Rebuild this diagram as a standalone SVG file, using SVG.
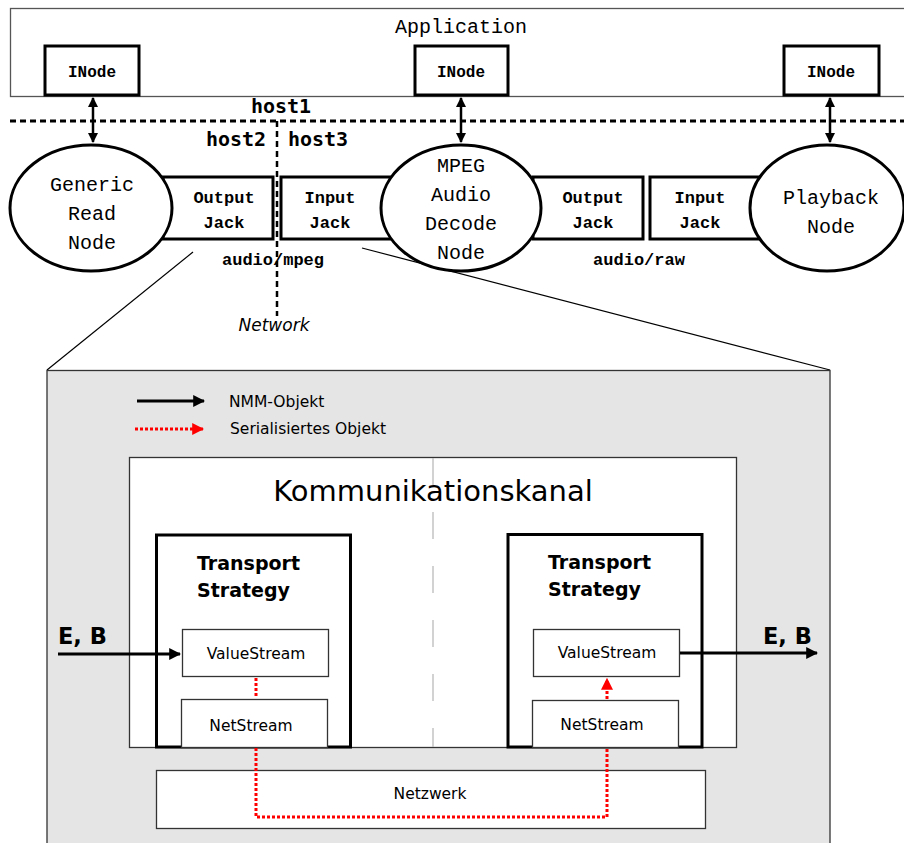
<svg xmlns="http://www.w3.org/2000/svg" width="904" height="843" viewBox="0 0 904 843">
<style>
.mono{font-family:"Liberation Mono","Courier New",monospace;fill:#000}
.dmono{font-family:"DejaVu Sans Mono",monospace;font-weight:bold;font-size:20px;fill:#000}
.sans{font-family:"DejaVu Sans",sans-serif;fill:#000}
.box{fill:#fff;stroke:#000;stroke-width:3}
.thin{fill:#fff;stroke:#333;stroke-width:1.3}
.ell{fill:#fff;stroke:#000;stroke-width:3}
.red{fill:none;stroke:#f00;stroke-width:3;stroke-dasharray:3,2}
.jk{font-size:17px;font-weight:bold}
</style>
<defs>
<marker id="ah" viewBox="0 0 10 10" refX="9" refY="5" markerWidth="4" markerHeight="4" orient="auto-start-reverse"><path d="M0,0L10,5L0,10z" fill="#000"/></marker>
<marker id="ahb" viewBox="0 0 10 10" refX="9" refY="5" markerWidth="4" markerHeight="4" orient="auto"><path d="M0,0L10,5L0,10z" fill="#000"/></marker>
<marker id="ahr" viewBox="0 0 10 10" refX="9" refY="5" markerWidth="4" markerHeight="4" orient="auto"><path d="M0,0L10,5L0,10z" fill="#f00"/></marker>
</defs>
<rect width="904" height="843" fill="#fff"/>
<g id="application">
<rect x="10.5" y="8.5" width="900" height="88" fill="#fff" stroke="#555" stroke-width="1.3"/>
<text class="mono" x="461" y="33" font-size="20" text-anchor="middle">Application</text>
</g>
<g id="inode1"><rect class="box" x="45" y="46" width="94" height="49"/><text class="mono" x="92" y="77" font-size="16" font-weight="bold" text-anchor="middle">INode</text></g>
<g id="inode2"><rect class="box" x="415" y="46" width="93" height="49"/><text class="mono" x="461" y="77" font-size="16" font-weight="bold" text-anchor="middle">INode</text></g>
<g id="inode3"><rect class="box" x="784" y="46" width="95" height="49"/><text class="mono" x="831" y="77" font-size="16" font-weight="bold" text-anchor="middle">INode</text></g>
<g id="hosts">
<line x1="10" y1="121" x2="904" y2="121" stroke="#000" stroke-width="3" stroke-dasharray="6,4"/>
<line x1="277" y1="121" x2="277" y2="316" stroke="#000" stroke-width="2.5" stroke-dasharray="6,4"/>
<text class="dmono" x="281" y="113" text-anchor="middle">host1</text>
<text class="dmono" x="236" y="146" text-anchor="middle">host2</text>
<text class="dmono" x="318" y="146" text-anchor="middle">host3</text>
<text class="sans" x="274" y="331" font-size="17" font-style="italic" text-anchor="middle">Network</text>
</g>
<g id="connectors">
<line x1="93" y1="98" x2="93" y2="142" stroke="#000" stroke-width="2.5" marker-start="url(#ah)" marker-end="url(#ah)"/>
<line x1="461" y1="98" x2="461" y2="142" stroke="#000" stroke-width="2.5" marker-start="url(#ah)" marker-end="url(#ah)"/>
<line x1="830" y1="98" x2="830" y2="142" stroke="#000" stroke-width="2.5" marker-start="url(#ah)" marker-end="url(#ah)"/>
<line x1="193" y1="252" x2="47" y2="370" stroke="#000" stroke-width="1.2"/>
<line x1="362" y1="248" x2="830" y2="370" stroke="#000" stroke-width="1.2"/>
</g>
<g id="outjack1"><rect class="box" x="163" y="177" width="110" height="62"/><text class="mono jk" x="224" y="203" text-anchor="middle">Output</text><text class="mono jk" x="224" y="228" text-anchor="middle">Jack</text></g>
<g id="injack1"><rect class="box" x="281" y="177" width="110" height="62"/><text class="mono jk" x="330" y="203" text-anchor="middle">Input</text><text class="mono jk" x="330" y="228" text-anchor="middle">Jack</text></g>
<g id="outjack2"><rect class="box" x="533" y="177" width="110" height="62"/><text class="mono jk" x="593" y="203" text-anchor="middle">Output</text><text class="mono jk" x="593" y="228" text-anchor="middle">Jack</text></g>
<g id="injack2"><rect class="box" x="650" y="177" width="110" height="62"/><text class="mono jk" x="700" y="203" text-anchor="middle">Input</text><text class="mono jk" x="700" y="228" text-anchor="middle">Jack</text></g>
<g id="genericread"><ellipse class="ell" cx="91" cy="208" rx="81" ry="63"/><text class="mono" x="92" y="191" font-size="20" text-anchor="middle">Generic</text><text class="mono" x="92" y="220" font-size="20" text-anchor="middle">Read</text><text class="mono" x="92" y="249" font-size="20" text-anchor="middle">Node</text></g>
<g id="mpegdecode"><ellipse class="ell" cx="461" cy="208" rx="80" ry="63"/><text class="mono" x="461" y="172" font-size="20" text-anchor="middle">MPEG</text><text class="mono" x="461" y="201" font-size="20" text-anchor="middle">Audio</text><text class="mono" x="461" y="230" font-size="20" text-anchor="middle">Decode</text><text class="mono" x="461" y="259" font-size="20" text-anchor="middle">Node</text></g>
<g id="playback"><ellipse class="ell" cx="827" cy="208" rx="77" ry="63"/><text class="mono" x="831" y="204" font-size="20" text-anchor="middle">Playback</text><text class="mono" x="831" y="233" font-size="20" text-anchor="middle">Node</text></g>
<g id="formats">
<text class="mono jk" x="273" y="265" text-anchor="middle">audio/mpeg</text>
<text class="mono jk" x="639" y="265" text-anchor="middle">audio/raw</text>
</g>
<g id="detail">
<rect x="47" y="370.5" width="783" height="480" fill="#e5e5e5" stroke="#333" stroke-width="1.3"/>
<line x1="137" y1="401" x2="204" y2="401" stroke="#000" stroke-width="3" marker-end="url(#ahb)"/>
<text class="sans" x="229" y="407" font-size="15.5">NMM-Objekt</text>
<line x1="135" y1="429" x2="203" y2="429" class="red" marker-end="url(#ahr)"/>
<text class="sans" x="230" y="434" font-size="15.5">Serialisiertes Objekt</text>
</g>
<g id="kanal">
<rect class="thin" x="129.5" y="457.5" width="607" height="290"/>
<line x1="433" y1="458" x2="433" y2="747" stroke="#bbb" stroke-width="1.3" stroke-dasharray="27,27"/>
<text class="sans" x="433" y="501" font-size="29" text-anchor="middle">Kommunikationskanal</text>
</g>
<g id="ts1"><rect class="box" x="156.5" y="535" width="194" height="212"/><text class="sans" x="197" y="570" font-size="19" font-weight="bold">Transport</text><text class="sans" x="197" y="597" font-size="19" font-weight="bold">Strategy</text></g>
<g id="ts2"><rect class="box" x="508" y="534.5" width="194" height="212.5"/><text class="sans" x="548" y="569" font-size="19" font-weight="bold">Transport</text><text class="sans" x="548" y="596" font-size="19" font-weight="bold">Strategy</text></g>
<g id="vs1"><rect class="thin" x="182.5" y="629.5" width="146" height="47"/><text class="sans" x="256" y="659" font-size="15.5" text-anchor="middle">ValueStream</text></g>
<g id="ns1"><rect class="thin" x="181.5" y="699.5" width="146" height="48"/><text class="sans" x="251" y="731" font-size="15.5" text-anchor="middle">NetStream</text></g>
<g id="vs2"><rect class="thin" x="533.5" y="629.5" width="146" height="47"/><text class="sans" x="607" y="658" font-size="15.5" text-anchor="middle">ValueStream</text></g>
<g id="ns2"><rect class="thin" x="532.5" y="700.5" width="146" height="47"/><text class="sans" x="602" y="730" font-size="15.5" text-anchor="middle">NetStream</text></g>
<g id="netzwerk"><rect class="thin" x="156.5" y="770.5" width="549" height="58"/><text class="sans" x="430" y="799" font-size="15.5" text-anchor="middle">Netzwerk</text></g>
<g id="eb">
<text class="sans" x="58" y="644" font-size="22.5" font-weight="bold">E, B</text>
<text class="sans" x="763" y="644" font-size="22.5" font-weight="bold">E, B</text>
</g>
<g id="flows">
<line x1="58" y1="654" x2="180" y2="654" stroke="#000" stroke-width="3" marker-end="url(#ahb)"/>
<line x1="680" y1="653" x2="817" y2="653" stroke="#000" stroke-width="3" marker-end="url(#ahb)"/>
<line x1="256" y1="678" x2="256" y2="698" class="red"/>
<polyline points="256,748 256,817 607,817 607,748" class="red"/>
<line x1="607" y1="699" x2="607" y2="679" class="red" marker-end="url(#ahr)"/>
</g>
</svg>
